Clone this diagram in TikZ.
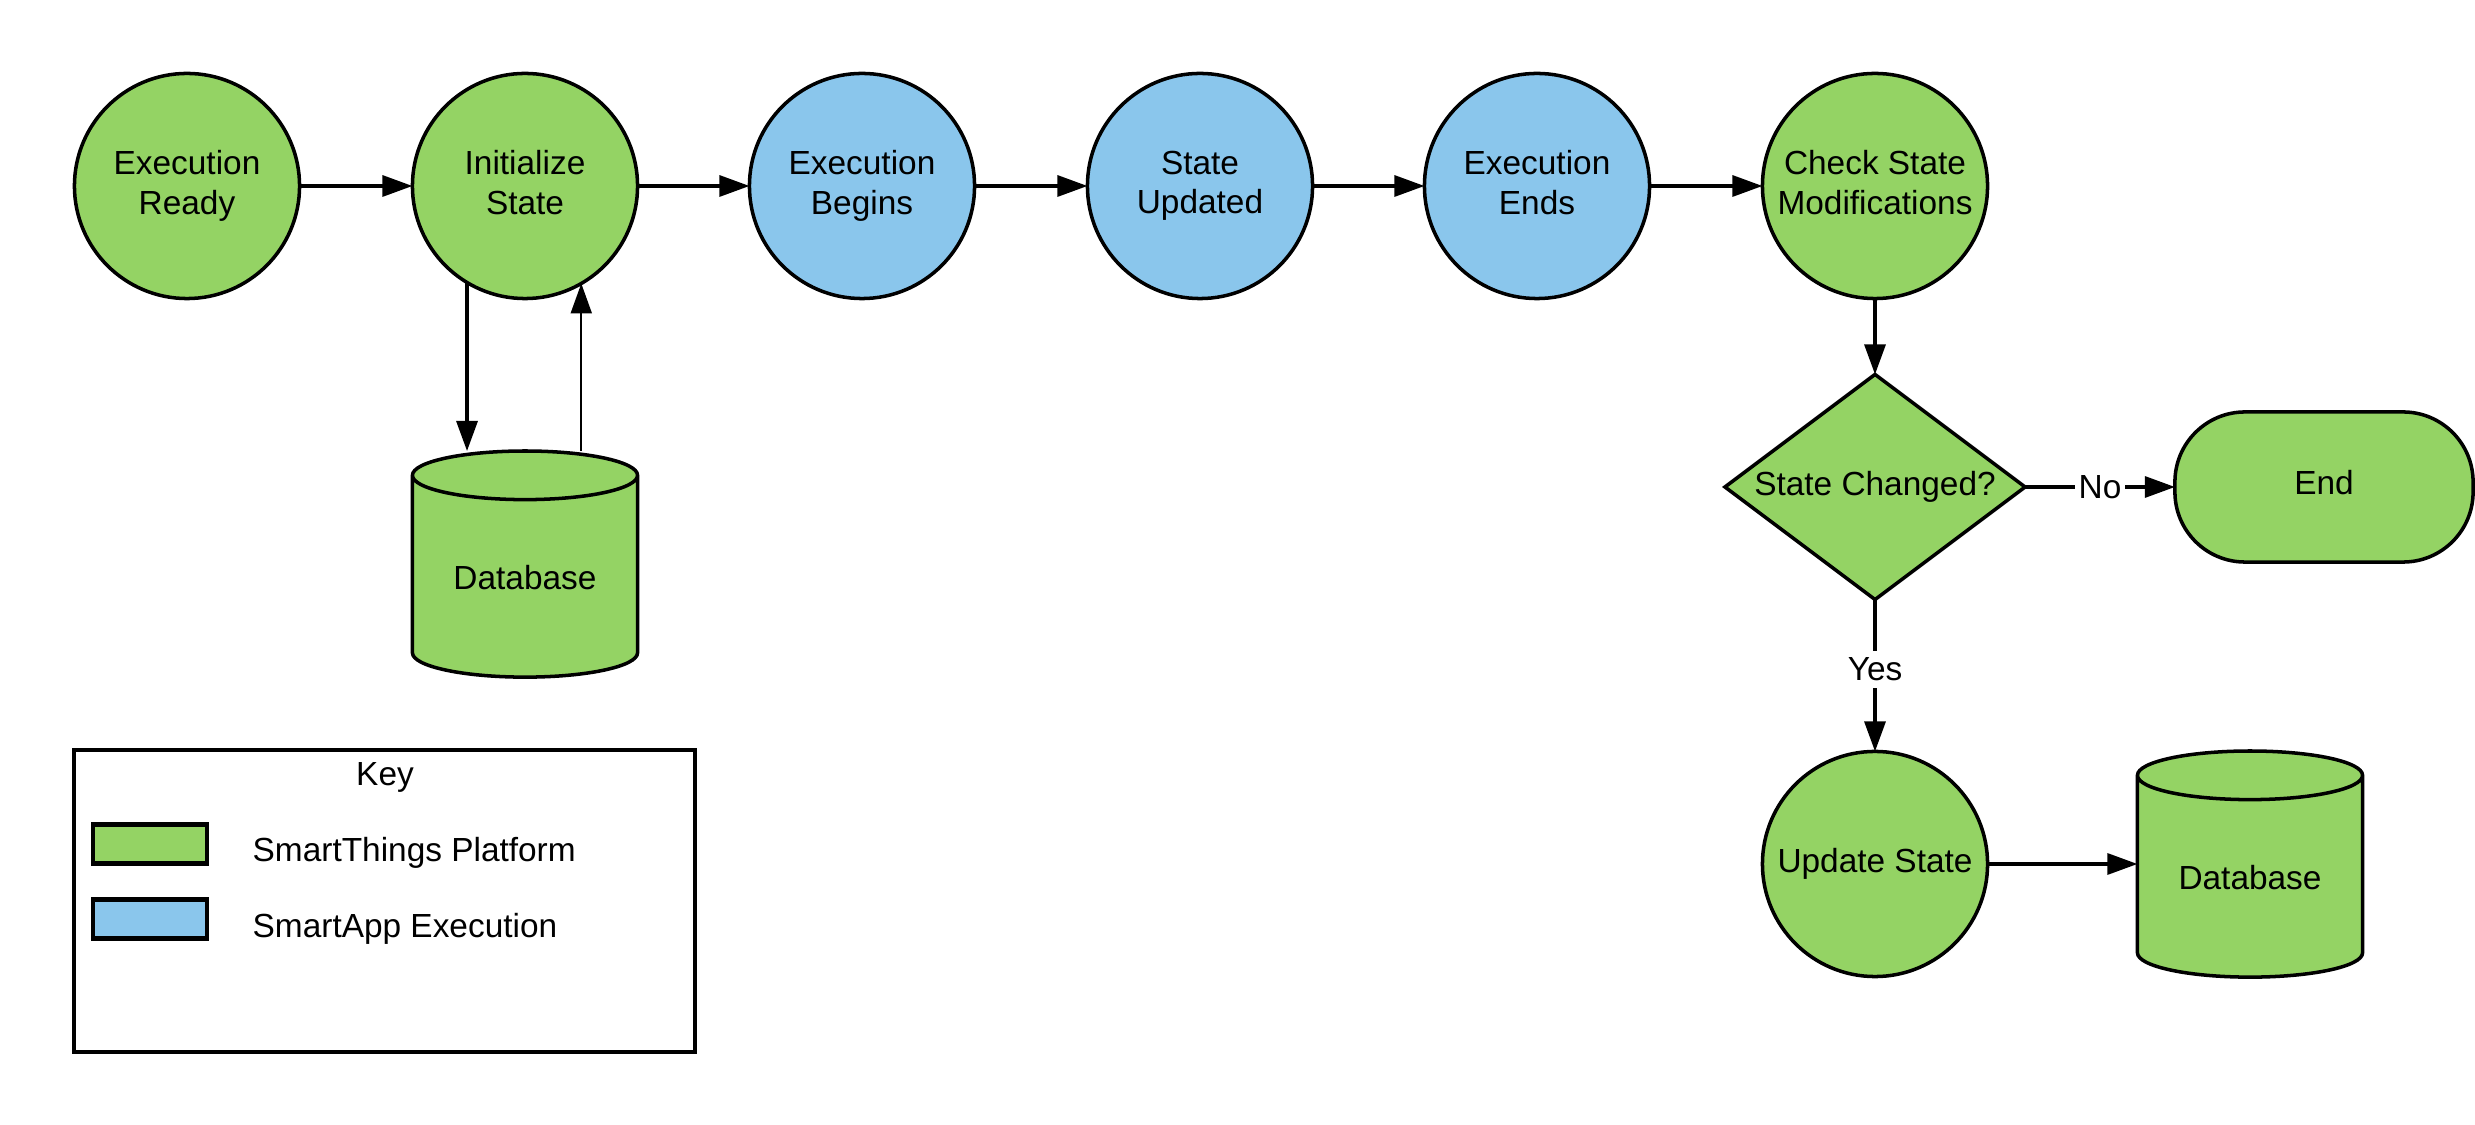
\documentclass[tikz,border=0pt]{standalone}
\usepackage{fontspec}
\setmainfont{Liberation Sans}
\usetikzlibrary{shapes.geometric}
\usetikzlibrary{arrows.meta}

\definecolor{platgreen}{RGB}{148,211,100}
\definecolor{appblue}{RGB}{138,198,236}

\begin{document}
\begin{tikzpicture}[x=0.01cm, y=-0.01cm,
    txt/.style={font=\fontsize{9.5}{11.2}\selectfont},
    stepnode/.style={circle, draw, line width=1pt, minimum size=2.25cm, inner sep=0pt, outer sep=0pt, align=center, txt, execute at end node={\rule[-0.21em]{0pt}{0.1em}}},
    platform/.style={stepnode, fill=platgreen},
    smartapp/.style={stepnode, fill=appblue},
    dbnode/.style={cylinder, shape border rotate=90, aspect=0.34, draw, fill=platgreen, line width=1pt, minimum width=2.25cm, minimum height=2.26cm, inner sep=0pt, outer sep=0pt, anchor=north, txt},
    flow/.style={-{Triangle[length=3mm,width=2.1mm]}, line width=0.9pt},
    swatch/.style={rectangle, draw, line width=1.3pt, minimum width=1.14cm, minimum height=0.39cm, inner sep=0pt}]
    \useasboundingbox (0,0) rectangle (2475,1125);

    % 主流程
    \node[platform] (ready) at (187,186) {Execution\\Ready};
    \node[platform] (init) at (525,186) {Initialize\\State};
    \node[smartapp] (begins) at (862,186) {Execution\\Begins};
    \node[smartapp] (updated) at (1200,186) {State\\Updated};
    \node[smartapp] (ends) at (1537,186) {Execution\\Ends};
    \node[platform] (check) at (1875,186) {Check State\\Modifications};

    \draw[flow] (ready) -- (init);
    \draw[flow] (init) -- (begins);
    \draw[flow] (begins) -- (updated);
    \draw[flow] (updated) -- (ends);
    \draw[flow] (ends) -- (check);

% 数据库读写
    \node[dbnode] (db1) at (525,451) {Database};
    \draw[flow] (init.-121) -- (init.-121 |- db1.north);
    \draw[flow, line width=0.6pt] (init.-60 |- db1.north) -- (init.-60);

% 判断
    \node[diamond, draw, fill=platgreen, line width=1pt, aspect=1.333, minimum width=3cm, minimum height=2.25cm, inner sep=0pt, outer sep=0pt, txt] (changed) at (1875,487) {State Changed?};
    \node[rectangle, rounded corners=0.7cm, draw, fill=platgreen, line width=1pt, minimum width=2.98cm, minimum height=1.5cm, outer sep=0pt, txt] (end) at (2324,487) {\strut End};
    \node[platform] (upd) at (1875,864) {Update State};
    \node[dbnode] (db2) at (2250,751) {Database};

    \draw[flow] (check) -- (changed);
    \draw[flow] (changed) -- node[fill=white, inner sep=1pt, txt] {No} (end);
    \draw[flow] (changed) -- node[pos=0.46, fill=white, inner sep=2pt, txt] {Yes} (upd);
    \draw[flow] (upd) -- (upd -| db2.west);

% 图例
    \draw[line width=1pt] (74,750) rectangle (695,1052);
    \node[txt] (keytitle) at (385,777) {Key};
    \node[swatch, fill=platgreen] (keygreen) at (150,844) {};
    \node[swatch, fill=appblue] (keyblue) at (150,919) {};
    \node[txt, anchor=west, inner sep=0pt] (keyplat) at (252,853) {SmartThings Platform};
    \node[txt, anchor=west, inner sep=0pt] (keyapp) at (252,929) {SmartApp Execution};

\end{tikzpicture}
\end{document}
